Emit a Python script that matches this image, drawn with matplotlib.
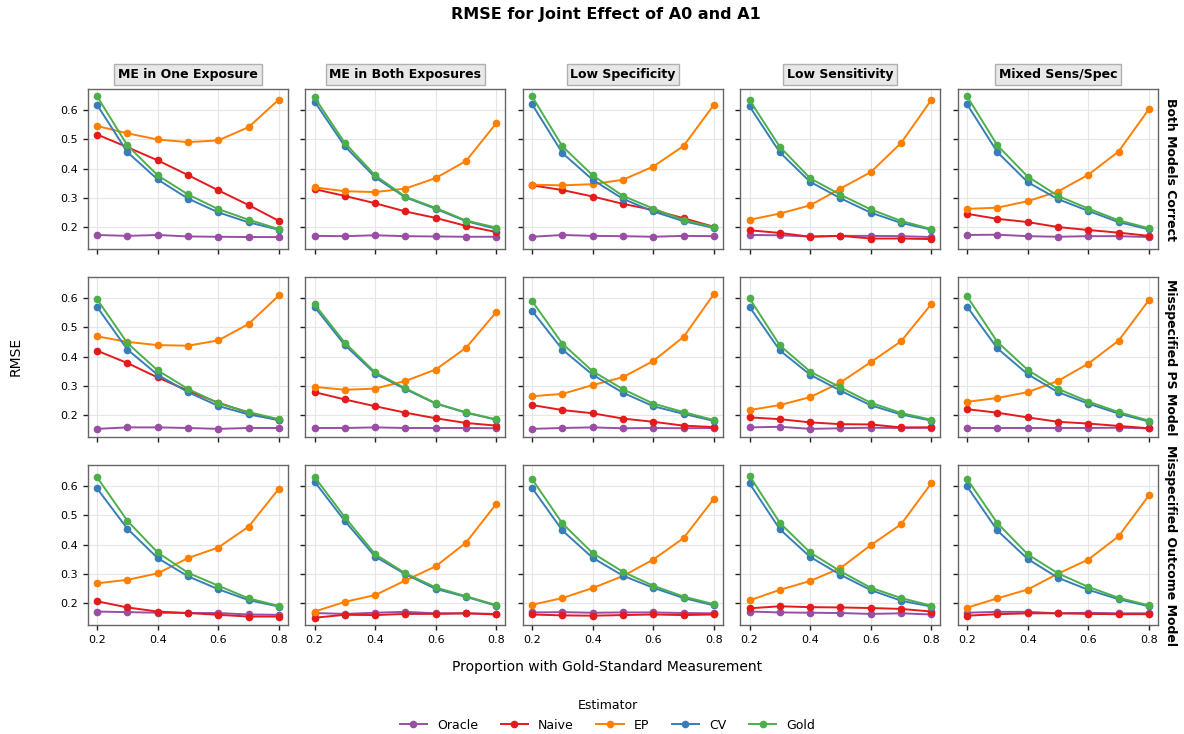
import matplotlib
matplotlib.use("Agg")
import matplotlib.pyplot as plt

# x values and labels
props = [0.2, 0.3, 0.4, 0.5, 0.6, 0.7, 0.8]
scenarios = ["ME in One Exposure", "ME in Both Exposures", "Low Specificity",
             "Low Sensitivity", "Mixed Sens/Spec"]
models = ["Both Models Correct", "Misspecified PS Model", "Misspecified Outcome Model"]
estimators = ["Oracle", "Naive", "EP", "CV", "Gold"]
colors = ["#984ea3", "#e41a1c", "#ff7f00", "#377eb8", "#4daf4a"]

# row 1: both models correct (one list per scenario)
correct_oracle = [[0.174, 0.171, 0.174, 0.169, 0.168, 0.167, 0.167],
                  [0.171, 0.170, 0.173, 0.170, 0.169, 0.168, 0.168],
                  [0.168, 0.174, 0.171, 0.170, 0.168, 0.171, 0.170],
                  [0.174, 0.173, 0.169, 0.171, 0.171, 0.170, 0.167],
                  [0.174, 0.175, 0.170, 0.168, 0.170, 0.170, 0.167]]
correct_naive = [[0.516, 0.473, 0.428, 0.378, 0.326, 0.276, 0.222],
                 [0.330, 0.307, 0.282, 0.254, 0.232, 0.205, 0.184],
                 [0.343, 0.327, 0.305, 0.280, 0.259, 0.231, 0.202],
                 [0.190, 0.181, 0.168, 0.171, 0.162, 0.162, 0.160],
                 [0.246, 0.229, 0.218, 0.201, 0.191, 0.182, 0.171]]
correct_ep = [[0.545, 0.520, 0.499, 0.490, 0.496, 0.541, 0.635],
              [0.336, 0.323, 0.320, 0.332, 0.368, 0.426, 0.555],
              [0.345, 0.343, 0.347, 0.362, 0.407, 0.477, 0.617],
              [0.226, 0.247, 0.275, 0.332, 0.388, 0.487, 0.634],
              [0.263, 0.267, 0.289, 0.322, 0.379, 0.458, 0.602]]
correct_cv = [[0.617, 0.456, 0.363, 0.298, 0.251, 0.217, 0.192],
              [0.628, 0.476, 0.370, 0.302, 0.263, 0.221, 0.195],
              [0.619, 0.453, 0.362, 0.297, 0.254, 0.221, 0.198],
              [0.612, 0.455, 0.355, 0.299, 0.250, 0.215, 0.192],
              [0.619, 0.456, 0.354, 0.296, 0.256, 0.218, 0.193]]
correct_gold = [[0.646, 0.479, 0.377, 0.312, 0.262, 0.226, 0.194],
                [0.642, 0.487, 0.377, 0.304, 0.266, 0.223, 0.199],
                [0.646, 0.476, 0.377, 0.307, 0.264, 0.225, 0.201],
                [0.633, 0.474, 0.367, 0.311, 0.261, 0.222, 0.194],
                [0.646, 0.479, 0.373, 0.307, 0.264, 0.224, 0.197]]

# row 2: misspecified PS model
ps_oracle = [[0.154, 0.159, 0.159, 0.157, 0.154, 0.157, 0.157],
             [0.157, 0.157, 0.159, 0.157, 0.157, 0.157, 0.156],
             [0.154, 0.157, 0.159, 0.156, 0.157, 0.156, 0.157],
             [0.159, 0.161, 0.154, 0.156, 0.158, 0.157, 0.158],
             [0.157, 0.157, 0.157, 0.157, 0.157, 0.158, 0.156]]
ps_naive = [[0.420, 0.378, 0.329, 0.284, 0.243, 0.209, 0.183],
            [0.279, 0.254, 0.231, 0.209, 0.190, 0.174, 0.165],
            [0.235, 0.218, 0.207, 0.189, 0.178, 0.165, 0.160],
            [0.193, 0.187, 0.176, 0.170, 0.169, 0.159, 0.159],
            [0.221, 0.209, 0.193, 0.178, 0.172, 0.164, 0.156]]
ps_ep = [[0.469, 0.450, 0.439, 0.437, 0.455, 0.511, 0.608],
         [0.297, 0.287, 0.291, 0.317, 0.356, 0.430, 0.552],
         [0.265, 0.273, 0.303, 0.330, 0.385, 0.467, 0.613],
         [0.218, 0.235, 0.262, 0.312, 0.381, 0.452, 0.579],
         [0.246, 0.259, 0.279, 0.317, 0.376, 0.454, 0.592]]
ps_cv = [[0.569, 0.424, 0.338, 0.279, 0.232, 0.203, 0.184],
         [0.569, 0.439, 0.342, 0.289, 0.240, 0.209, 0.185],
         [0.556, 0.424, 0.338, 0.277, 0.231, 0.205, 0.181],
         [0.569, 0.421, 0.338, 0.284, 0.234, 0.203, 0.182],
         [0.570, 0.428, 0.340, 0.279, 0.240, 0.206, 0.179]]
ps_gold = [[0.595, 0.446, 0.353, 0.290, 0.241, 0.211, 0.187],
           [0.578, 0.447, 0.346, 0.292, 0.241, 0.210, 0.186],
           [0.589, 0.444, 0.350, 0.289, 0.240, 0.211, 0.184],
           [0.598, 0.438, 0.349, 0.295, 0.243, 0.208, 0.185],
           [0.605, 0.450, 0.355, 0.290, 0.247, 0.211, 0.182]]

# row 3: misspecified outcome model
out_oracle = [[0.172, 0.170, 0.168, 0.167, 0.167, 0.162, 0.161],
              [0.167, 0.164, 0.168, 0.171, 0.166, 0.166, 0.164],
              [0.169, 0.170, 0.168, 0.169, 0.169, 0.167, 0.166],
              [0.172, 0.169, 0.168, 0.167, 0.164, 0.166, 0.162],
              [0.168, 0.171, 0.171, 0.166, 0.168, 0.166, 0.166]]
out_naive = [[0.207, 0.186, 0.172, 0.167, 0.161, 0.155, 0.155],
             [0.151, 0.161, 0.160, 0.164, 0.164, 0.166, 0.162],
             [0.162, 0.159, 0.158, 0.160, 0.162, 0.160, 0.162],
             [0.183, 0.190, 0.187, 0.186, 0.184, 0.181, 0.172],
             [0.158, 0.163, 0.166, 0.166, 0.164, 0.163, 0.163]]
out_ep = [[0.268, 0.280, 0.302, 0.354, 0.390, 0.461, 0.590],
          [0.172, 0.205, 0.228, 0.278, 0.326, 0.407, 0.539],
          [0.195, 0.218, 0.252, 0.293, 0.349, 0.422, 0.556],
          [0.210, 0.246, 0.276, 0.320, 0.398, 0.469, 0.609],
          [0.185, 0.217, 0.247, 0.301, 0.349, 0.428, 0.567]]
out_cv = [[0.591, 0.454, 0.354, 0.292, 0.248, 0.211, 0.189],
          [0.614, 0.480, 0.359, 0.299, 0.249, 0.222, 0.192],
          [0.593, 0.448, 0.355, 0.294, 0.253, 0.218, 0.193],
          [0.608, 0.452, 0.358, 0.297, 0.245, 0.209, 0.189],
          [0.598, 0.448, 0.351, 0.287, 0.246, 0.214, 0.190]]
out_gold = [[0.629, 0.481, 0.373, 0.304, 0.260, 0.217, 0.191],
            [0.630, 0.493, 0.367, 0.302, 0.254, 0.224, 0.194],
            [0.623, 0.472, 0.371, 0.307, 0.260, 0.223, 0.197],
            [0.634, 0.474, 0.373, 0.309, 0.253, 0.218, 0.192],
            [0.623, 0.473, 0.367, 0.302, 0.256, 0.219, 0.193]]

rows = [
    [correct_oracle, correct_naive, correct_ep, correct_cv, correct_gold],
    [ps_oracle, ps_naive, ps_ep, ps_cv, ps_gold],
    [out_oracle, out_naive, out_ep, out_cv, out_gold],
]

fig, axes = plt.subplots(3, 5, figsize=(11.84, 7.34), dpi=100,
                         sharex=True, sharey=True)
fig.subplots_adjust(left=0.0743, right=0.978, top=0.8787, bottom=0.1485,
                    wspace=0.0875, hspace=0.175)

for i, row in enumerate(rows):
    for j in range(len(scenarios)):
        ax = axes[i, j]
        for k, est in enumerate(estimators):
            ax.plot(props, row[k][j], color=colors[k], marker="o",
                    markersize=4.5, linewidth=1.4, label=est)
        ax.grid(True, color="#e6e6e6", linewidth=0.8)
        ax.set_axisbelow(True)
        for sp in ax.spines.values():
            sp.set_color("#666666")
            sp.set_linewidth(1.0)
        ax.tick_params(labelsize=8, length=3.5, width=1, color="#222222")
        if i == 0:
            ax.set_title(scenarios[j], fontsize=9, fontweight="bold", pad=8,
                         bbox=dict(facecolor="#e8e8e8", edgecolor="#b0b0b0",
                                   boxstyle="square,pad=0.3"))
        if j == len(scenarios) - 1:
            ax.text(1.03, 0.5, models[i], transform=ax.transAxes, rotation=270,
                    ha="left", va="center", fontsize=9, fontweight="bold")

axes[0, 0].set_xticks([0.2, 0.4, 0.6, 0.8])
axes[0, 0].set_yticks([0.2, 0.3, 0.4, 0.5, 0.6])

fig.suptitle("RMSE for Joint Effect of A0 and A1", fontsize=11.5,
             fontweight="bold", x=0.512, y=0.99)
fig.text(0.013, 0.514, "RMSE", rotation=90, ha="center", va="center", fontsize=10)
fig.text(0.513, 0.0913, "Proportion with Gold-Standard Measurement",
         ha="center", va="center", fontsize=10)

handles, labels = axes[0, 0].get_legend_handles_labels()
fig.legend(handles, labels, title="Estimator", ncol=5, loc="lower center",
           bbox_to_anchor=(0.513, -0.012), frameon=False, fontsize=9,
           title_fontsize=9, columnspacing=1.8, handlelength=2.2)

plt.savefig("out.png", dpi=100)
